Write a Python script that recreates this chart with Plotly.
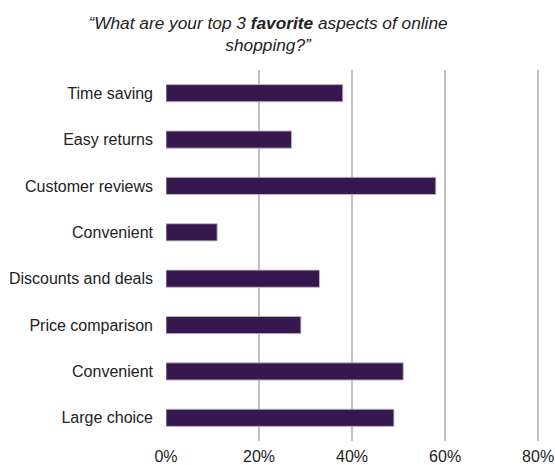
import plotly.graph_objects as go

# Survey answers, listed top to bottom
aspects = [
    "Time saving",
    "Easy returns",
    "Customer reviews",
    "Convenient",
    "Discounts and deals",
    "Price comparison",
    "Convenient",
    "Large choice",
]
shares = [38, 27, 58, 11, 33, 29, 51, 49]  # percent of respondents
x_ticks = [0, 20, 40, 60, 80]
x_tick_labels = ["0%", "20%", "40%", "60%", "80%"]

positions = list(range(len(aspects)))

fig = go.Figure(
    go.Bar(
        x=shares,
        y=positions,
        orientation="h",
        width=0.37,
        marker=dict(color="#36174e", line=dict(color="rgba(190,185,195,0.9)", width=1)),
        hoverinfo="skip",
    )
)

fig.update_layout(
    width=555,
    height=465,
    margin=dict(l=166, r=15, t=70, b=24),
    paper_bgcolor="white",
    plot_bgcolor="white",
    showlegend=False,
    font=dict(family="Liberation Sans, Arial, sans-serif", size=16, color="#222222"),
    title=dict(
        text="<i>“What are your top 3 <b>favorite</b> aspects of online<br>shopping?”</i>",
        x=0.483,
        xanchor="center",
        y=0.938,
        yanchor="top",
        font=dict(size=17.3, color="#222222"),
    ),
)

fig.update_xaxes(
    range=[0, 80.4],
    tickvals=x_ticks,
    ticktext=x_tick_labels,
    showgrid=True,
    gridcolor="#c0c0c0",
    gridwidth=1.5,
    zeroline=False,
    showline=False,
    ticks="",
    ticklabelstandoff=4,
    automargin=False,
    fixedrange=True,
)

fig.update_yaxes(
    range=[len(aspects) - 0.5, -0.5],
    tickvals=positions,
    ticktext=aspects,
    showgrid=False,
    zeroline=False,
    showline=False,
    ticks="",
    ticklabelstandoff=12,
    automargin=False,
    fixedrange=True,
)

fig.write_html("out.html")
